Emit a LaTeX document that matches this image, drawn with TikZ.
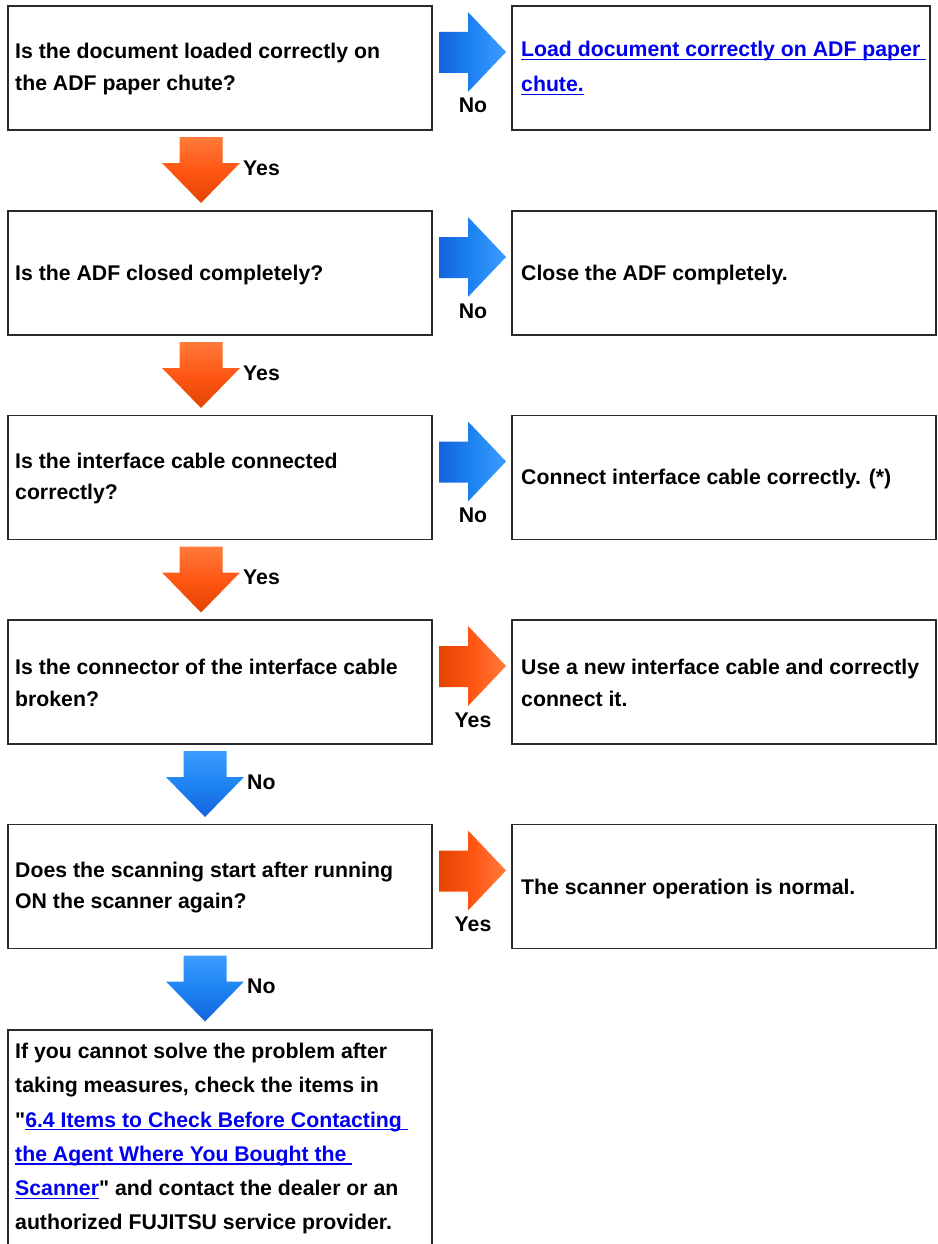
\documentclass[tikz,border=0pt]{standalone}
\usepackage{fontspec}
\setmainfont{Liberation Sans}[Ligatures=TeXOff]
\definecolor{linkblue}{HTML}{0000EE}
\definecolor{bdark}{HTML}{1462DC}
\definecolor{bmain}{HTML}{1E84F2}
\definecolor{blight}{HTML}{3C9CFF}
\definecolor{odark}{HTML}{E24400}
\definecolor{omain}{HTML}{FF5614}
\definecolor{olight}{HTML}{FF7A3A}
\definecolor{boxline}{HTML}{2A2A2A}
\newcommand\lnk[1]{{\color{linkblue}\setbox0\hbox{#1}\rlap{\rule[-3.4pt]{\wd0}{1.2pt}}\box0}}
\tikzset{
  box/.style={draw=boxline, line width=1.6pt, minimum height=124pt, inner sep=0pt, outer sep=0pt, anchor=north west},
  txt/.style={font=\fontsize{21.25pt}{31.5pt}\selectfont\bfseries, align=left, inner sep=0pt, anchor=west},
  lnktxt/.style={font=\fontsize{21.25pt}{35pt}\selectfont\bfseries, align=left, inner sep=0pt, anchor=west},
  lbl/.style={font=\fontsize{21.25pt}{24pt}\selectfont\bfseries, inner sep=0pt},
  bluefill/.style={left color=bdark, right color=blight, middle color=bmain},
  orangefill/.style={left color=odark, right color=olight, middle color=omain},
  bluedown/.style={top color=blight, bottom color=bdark, middle color=bmain},
  orangedown/.style={top color=olight, bottom color=odark, middle color=omain},
}
% right block arrow from the east side of a box
\newcommand\rightarr[3]{% node, style, label
  \shade[#2] ([shift={(7,26)}]#1.north east) -- ([shift={(36,26)}]#1.north east)
    -- ([shift={(36,6)}]#1.north east) -- ([shift={(74,46)}]#1.north east)
    -- ([shift={(36,86)}]#1.north east) -- ([shift={(36,67)}]#1.north east)
    -- ([shift={(7,67)}]#1.north east) -- cycle;
  \node[lbl, anchor=base] at ([shift={(41,107)}]#1.north east) {#3};
}
% down block arrow below a box
\newcommand\downarr[4]{% node, style, xoffset, label
  \shade[#2] ([shift={(#3-21.5,7)}]#1.south) -- ([shift={(#3+21.5,7)}]#1.south)
    -- ([shift={(#3+21.5,33)}]#1.south) -- ([shift={(#3+39,33)}]#1.south)
    -- ([shift={(#3,73)}]#1.south) -- ([shift={(#3-39,33)}]#1.south)
    -- ([shift={(#3-21.5,33)}]#1.south) -- cycle;
  \node[lbl, anchor=base west] at ([shift={(#3+42,45)}]#1.south) {#4};
}
\begin{document}
\begin{tikzpicture}[x=1pt, y=-1pt]
\useasboundingbox[fill=white] (0,0) rectangle (937,1244);

% question boxes
\node[box, minimum width=424pt] (q1) at (8,6) {};
\node[box, minimum width=424pt] (q2) at (8,211) {};
\node[box, minimum width=424pt] (q3) at (8,415.5) {};
\node[box, minimum width=424pt] (q4) at (8,620) {};
\node[box, minimum width=424pt] (q5) at (8,824.5) {};

% answer boxes
\node[box, minimum width=418pt] (a1) at (512,6) {};
\node[box, minimum width=424pt] (a2) at (512,211) {};
\node[box, minimum width=424pt] (a3) at (512,415.5) {};
\node[box, minimum width=424pt] (a4) at (512,620) {};
\node[box, minimum width=424pt] (a5) at (512,824.5) {};

% final box (open at the bottom)
\node[inner sep=0pt, outer sep=0pt, minimum width=424pt, minimum height=214pt, anchor=north west] (f) at (8,1030) {};
\draw[boxline, line width=1.6pt] (f.south west) -- (f.north west) -- (f.north east) -- (f.south east);

% texts
\node[txt] (q1t) at ([shift={(7,1)}]q1.west) {Is the document loaded correctly on\\the ADF paper chute?};
\node[txt] (q2t) at ([shift={(7,2)}]q2.west) {Is the ADF closed completely?};
\node[txt] (q3t) at ([shift={(7,1)}]q3.west) {Is the interface cable connected\\correctly?};
\node[txt] (q4t) at ([shift={(7,1)}]q4.west) {Is the connector of the interface cable\\broken?};
\node[txt] (q5t) at ([shift={(7,1)}]q5.west) {Does the scanning start after running\\ON the scanner again?};

\node[lnktxt] (a1t) at ([shift={(9,0)}]a1.west) {\lnk{Load document correctly on ADF paper\ }\\\lnk{chute.}};
\node[txt] (a2t) at ([shift={(9,2)}]a2.west) {Close the ADF completely.};
\node[txt] (a3t) at ([shift={(9,2)}]a3.west) {Connect interface cable correctly. (*)};
\node[txt] (a4t) at ([shift={(9,1)}]a4.west) {Use a new interface cable and correctly\\connect it.};
\node[txt] (a5t) at ([shift={(9,2)}]a5.west) {The scanner operation is normal.};

\node[txt, font=\fontsize{21.25pt}{34.2pt}\selectfont\bfseries, anchor=north west] (ft) at ([shift={(7,13)}]f.north west)
  {If you cannot solve the problem after\\taking measures, check the items in\\"\lnk{6.4 Items to Check Before Contacting\ }\\\lnk{the Agent Where You Bought the\ }\\\lnk{Scanner}" and contact the dealer or an\\authorized FUJITSU service provider.};

% right arrows
\rightarr{q1}{bluefill}{No}
\rightarr{q2}{bluefill}{No}
\rightarr{q3}{bluefill}{No}
\rightarr{q4}{orangefill}{Yes}
\rightarr{q5}{orangefill}{Yes}

% down arrows
\downarr{q1}{orangedown}{-19}{Yes}
\downarr{q2}{orangedown}{-19}{Yes}
\downarr{q3}{orangedown}{-19}{Yes}
\downarr{q4}{bluedown}{-15}{No}
\downarr{q5}{bluedown}{-15}{No}
\end{tikzpicture}
\end{document}
